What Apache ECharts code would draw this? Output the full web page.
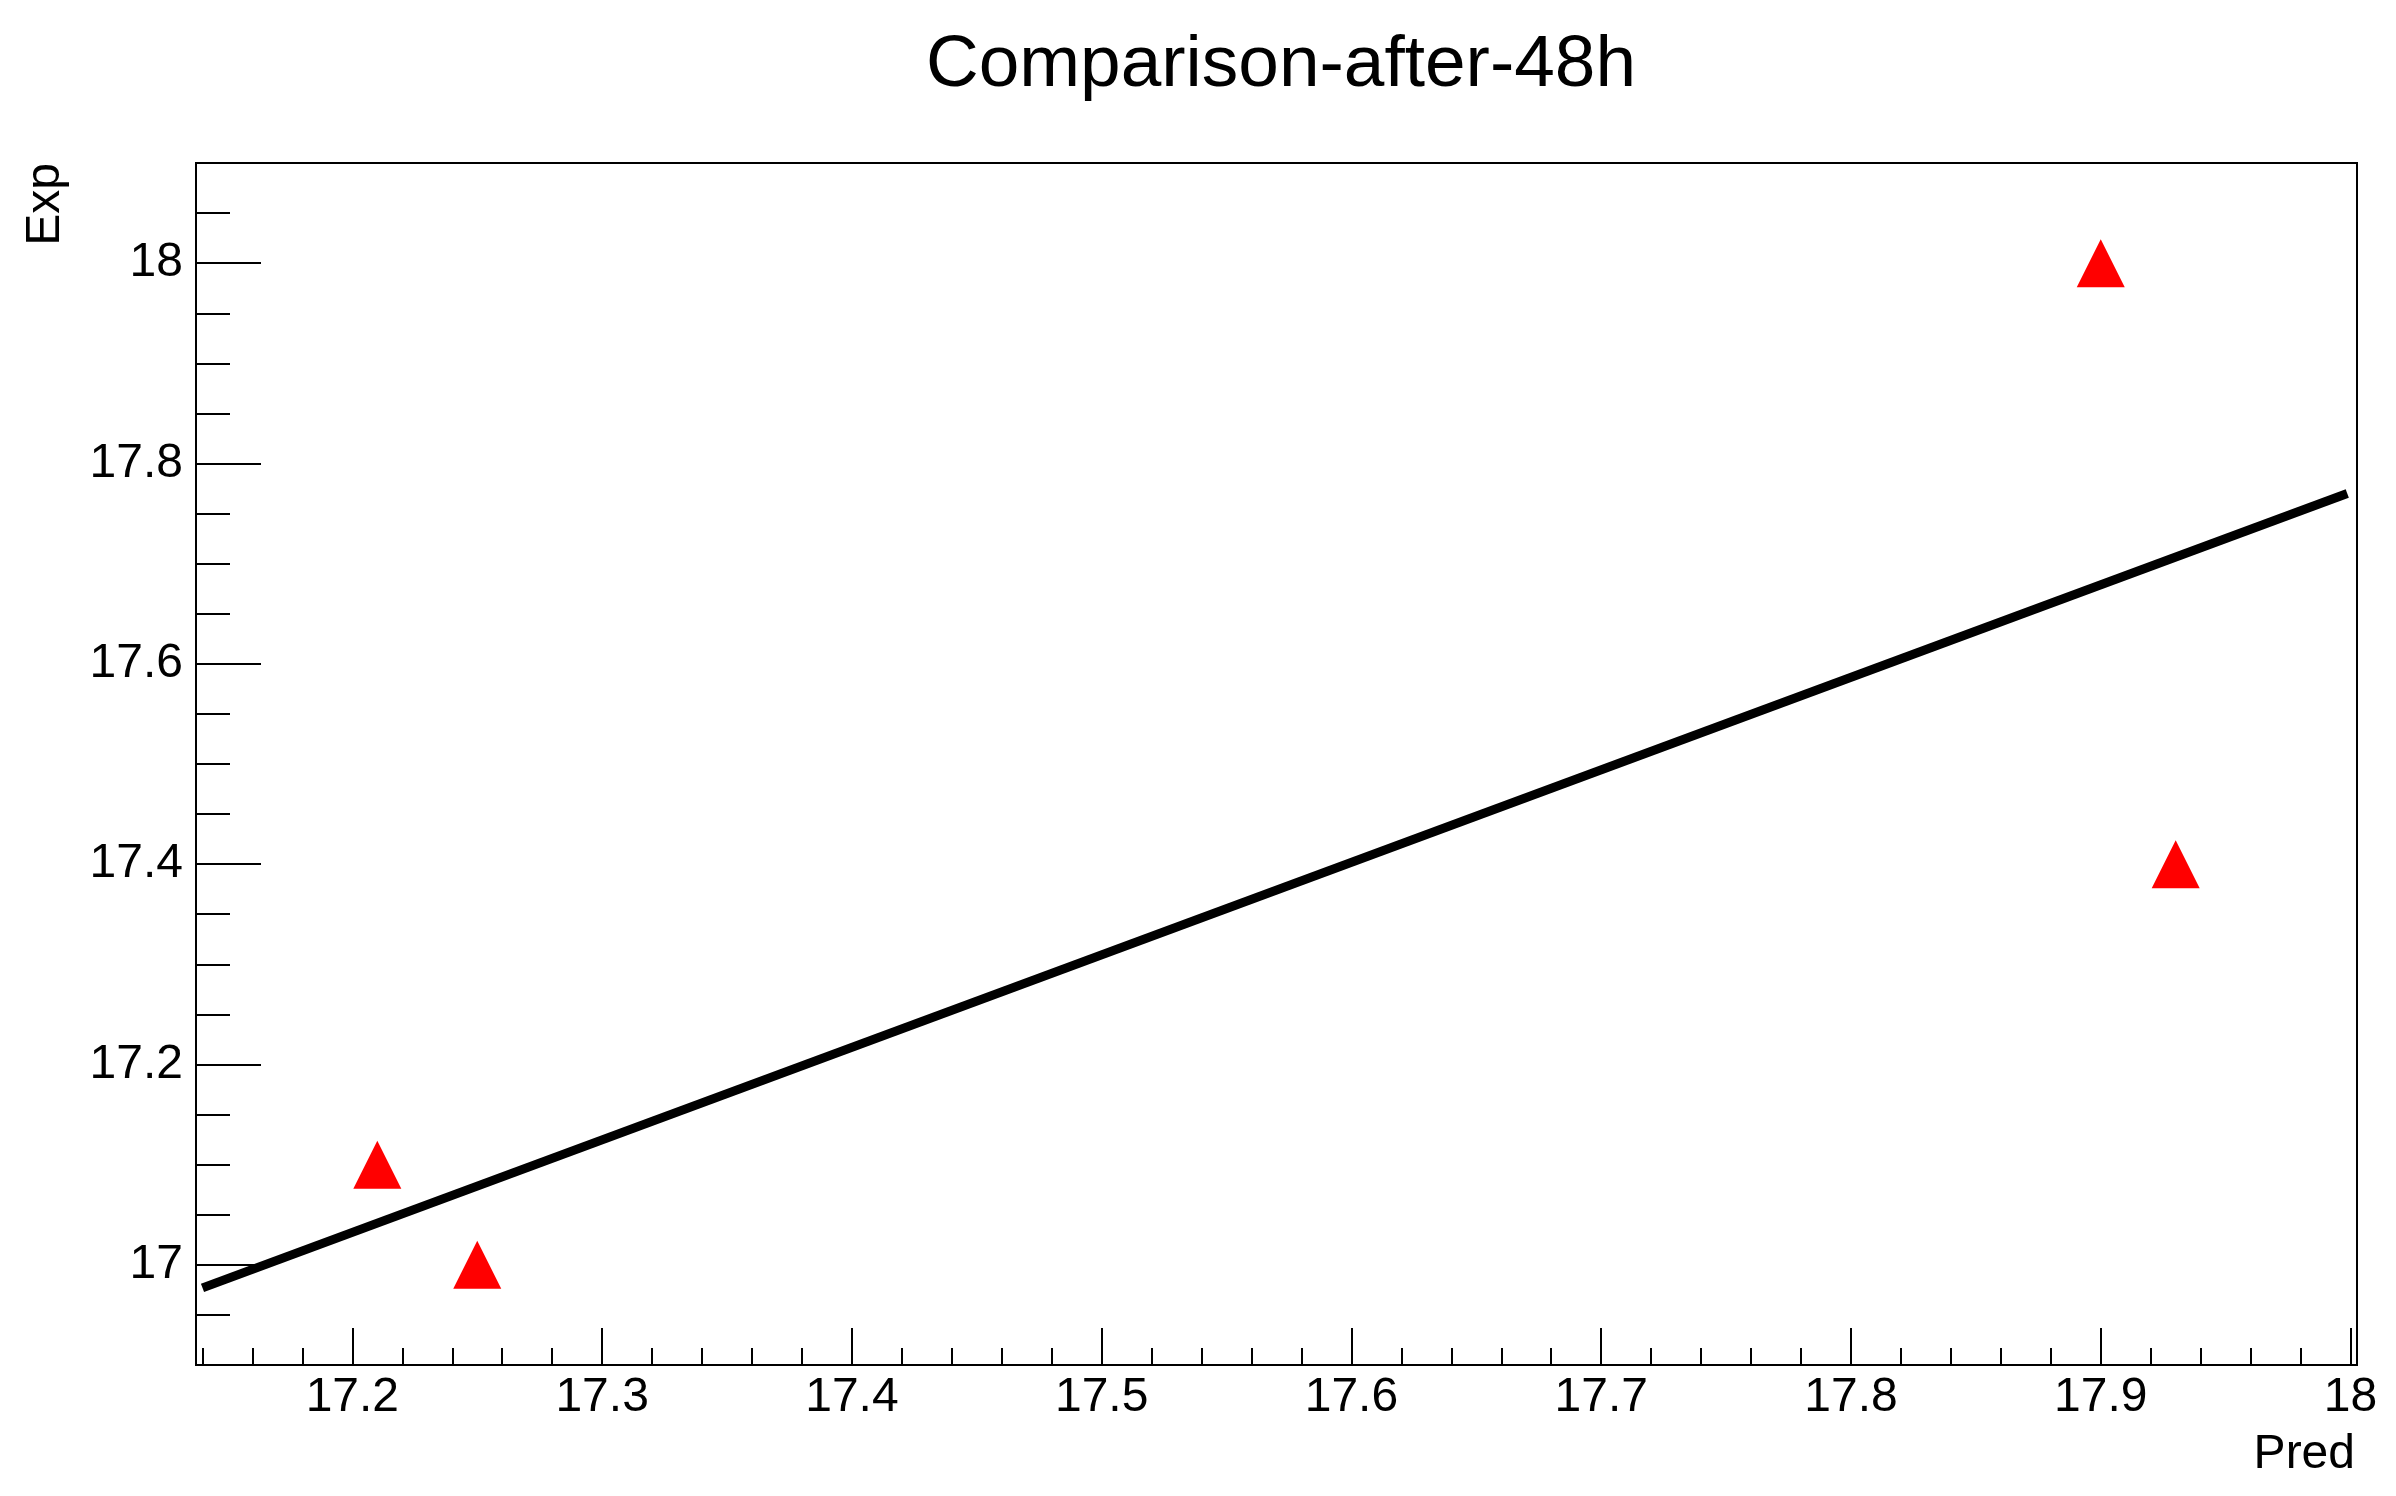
<!DOCTYPE html>
<html>
<head>
<meta charset="utf-8">
<title>Comparison-after-48h</title>
<script src="https://cdn.jsdelivr.net/npm/echarts@6/dist/echarts.min.js"></script>
<style>
    html, body { margin: 0; padding: 0; background: #fff; }
    #chart { width: 2396px; height: 1496px; }
</style>
</head>
<body>
<div id="chart"></div>
<script>
    // measured points (Pred, Exp)
    const predValues = [17.21, 17.25, 17.90, 17.93];
    const expValues = [17.1, 17.0, 18.0, 17.4];

    const fitPred = [17.14, 17.9987];
    const fitExp = [16.977, 17.770];

    const xTicks = [17.2, 17.3, 17.4, 17.5, 17.6, 17.7, 17.8, 17.9, 18];
    const yTicks = [17, 17.2, 17.4, 17.6, 17.8, 18];

    const xRange = [17.1374, 18.0026];
    const yRange = [16.9, 18.1];

    // minor ticks: every 0.02 on x, every 0.05 on y
    const xMinor = [];
    for (let v = 1714; v <= 1800; v += 2) {
        if (v % 10 !== 0) xMinor.push(v / 100);
    }
    const yMinor = [];
    for (let v = 1690; v <= 1810; v += 5) {
        if (v % 20 !== 0) yMinor.push(v / 100);
    }

    const font = "'Liberation Sans', Arial, Helvetica, sans-serif";
    const chart = echarts.init(document.getElementById('chart'), null, {renderer: 'canvas'});

    const axisLine = {show: true, onZero: false, lineStyle: {color: '#000', width: 2}};

    chart.setOption({
        animation: false,
        backgroundColor: '#fff',
        title: {
            text: 'Comparison-after-48h',
            left: 1276,
            top: 24,
            textAlign: 'center',
            textStyle: {fontFamily: font, fontSize: 73, fontWeight: 'normal', color: '#000'}
        },
        grid: {
            left: 196,
            top: 163,
            width: 2161,
            height: 1202,
            show: true,
            borderColor: '#000',
            borderWidth: 2,
            backgroundColor: 'transparent',
            containLabel: false,
            outerBoundsMode: 'none'
        },
        xAxis: [
            {
                type: 'value',
                position: 'bottom',
                min: xRange[0],
                max: xRange[1],
                name: 'Pred',
                nameLocation: 'end',
                nameGap: 0,
                nameMoveOverlap: false,
                nameTextStyle: {
                    fontFamily: font, fontSize: 48, color: '#000',
                    align: 'right', verticalAlign: 'top', padding: [66, 2, 0, 0]
                },
                axisLine: axisLine,
                splitLine: {show: false},
                axisTick: {show: true, inside: true, length: 37, customValues: xTicks,
                    lineStyle: {color: '#000', width: 2}},
                axisLabel: {customValues: xTicks, margin: 9, color: '#000',
                    fontFamily: font, fontSize: 48}
            },
            {
                type: 'value',
                position: 'bottom',
                min: xRange[0],
                max: xRange[1],
                axisLine: {show: false},
                splitLine: {show: false},
                axisTick: {show: true, inside: true, length: 17, customValues: xMinor,
                    lineStyle: {color: '#000', width: 2}},
                axisLabel: {show: false}
            }
        ],
        yAxis: [
            {
                type: 'value',
                position: 'left',
                min: yRange[0],
                max: yRange[1],
                name: 'Exp',
                nameLocation: 'end',
                nameRotate: 90,
                nameGap: 0,
                nameMoveOverlap: false,
                nameTextStyle: {
                    fontFamily: font, fontSize: 48, color: '#000',
                    align: 'right', verticalAlign: 'bottom', padding: [0, 0, 126, 0]
                },
                axisLine: axisLine,
                splitLine: {show: false},
                axisTick: {show: true, inside: true, length: 65, customValues: yTicks,
                    lineStyle: {color: '#000', width: 2}},
                axisLabel: {customValues: yTicks, margin: 13, color: '#000',
                    fontFamily: font, fontSize: 48}
            },
            {
                type: 'value',
                position: 'left',
                min: yRange[0],
                max: yRange[1],
                axisLine: {show: false},
                splitLine: {show: false},
                axisTick: {show: true, inside: true, length: 34, customValues: yMinor,
                    lineStyle: {color: '#000', width: 2}},
                axisLabel: {show: false}
            }
        ],
        series: [
            {
                name: 'fit',
                type: 'line',
                xAxisIndex: 0,
                yAxisIndex: 0,
                showSymbol: false,
                symbol: 'none',
                lineStyle: {color: '#000', width: 9, cap: 'butt'},
                data: fitPred.map((x, i) => [x, fitExp[i]]),
                z: 2
            },
            {
                name: 'points',
                type: 'scatter',
                xAxisIndex: 0,
                yAxisIndex: 0,
                symbol: 'triangle',
                symbolSize: [48, 48],
                itemStyle: {color: '#ff0000', opacity: 1},
                data: predValues.map((x, i) => [x, expValues[i]]),
                z: 3
            }
        ]
    });
</script>
</body>
</html>
